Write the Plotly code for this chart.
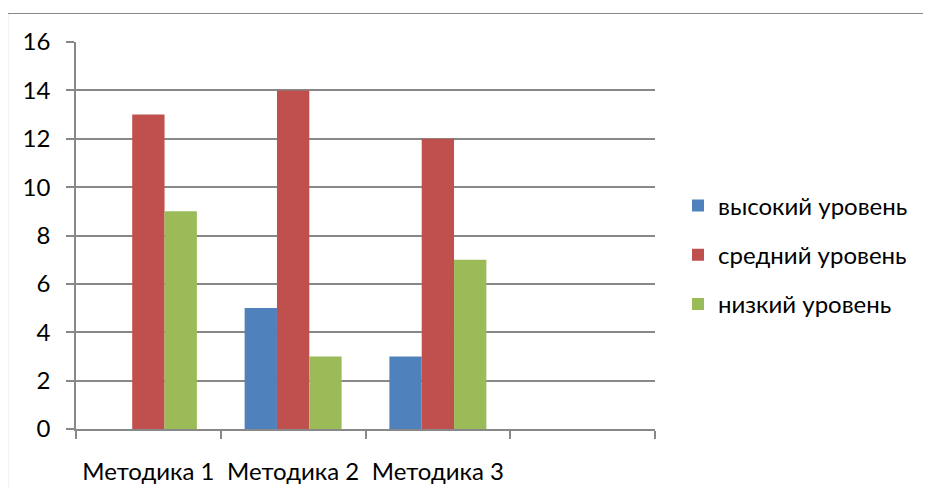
import plotly.graph_objects as go

categories = ["Методика 1", "Методика 2", "Методика 3", " "]
series_names = ["высокий уровень", "средний уровень", "низкий уровень"]
high = [0, 5, 3, None]
mid = [13, 14, 12, None]
low = [9, 3, 7, None]
colors = ["#4F81BD", "#C0504D", "#9BBB59"]
y_ticks = [0, 2, 4, 6, 8, 10, 12, 14, 16]

FONT = "Lato, Carlito, Calibri, sans-serif"
GRAY = "#888888"
FS = 24

fig = go.Figure()
for i, (name, vals) in enumerate(zip(series_names, [high, mid, low])):
    fig.add_trace(go.Bar(
        x=categories, y=vals, name=name,
        marker=dict(color=colors[i], line=dict(width=0)),
        legendgroup=name,
    ))

OFF = 8  # page body margin
L, R, T, B = 76 - OFF, 655 - OFF, 42 - OFF, 429 - OFF
W, H = 931 - OFF, 489 - OFF
pw, ph = R - L, B - T

def px2x(p):
    return (p - OFF - L) / pw

def py2y(p):
    return (B - (p - OFF)) / ph

fig.add_shape(type="rect", xref="paper", yref="paper",
              x0=px2x(7.5), x1=px2x(960), y0=py2y(13.5), y1=py2y(520),
              line=dict(color=GRAY, width=1.2), fillcolor="rgba(0,0,0,0)", layer="below")

fig.update_layout(
    width=W, height=H,
    margin=dict(l=L, r=W - R, t=T, b=H - B, pad=0, autoexpand=False),
    paper_bgcolor="white", plot_bgcolor="white",
    barmode="group", bargap=0.33, bargroupgap=0,
    font=dict(family=FONT, size=FS, color="#000000"),
    showlegend=True,
    legend=dict(x=px2x(678), y=py2y(255), xanchor="left", yanchor="middle",
                font=dict(size=FS, family=FONT), tracegroupgap=15,
                itemwidth=30, bgcolor="rgba(0,0,0,0)"),
    xaxis=dict(type="category", tickson="boundaries", ticks="outside", ticklen=8,
               tickcolor=GRAY, tickwidth=1.5, showline=True, linecolor=GRAY, linewidth=1.5,
               showgrid=False, ticklabelstandoff=20, range=[-0.5, 3.5], automargin=False,
               tickfont=dict(size=FS, family=FONT)),
    yaxis=dict(range=[0, 16], tickvals=y_ticks, ticks="outside", ticklen=8,
               tickcolor=GRAY, tickwidth=1.5, showline=True, linecolor=GRAY, linewidth=1.5,
               showgrid=True, gridcolor=GRAY, gridwidth=1.5, zeroline=False, automargin=False,
               ticklabelstandoff=11, tickfont=dict(size=FS, family=FONT)),
)

fig.write_html("out.html")
